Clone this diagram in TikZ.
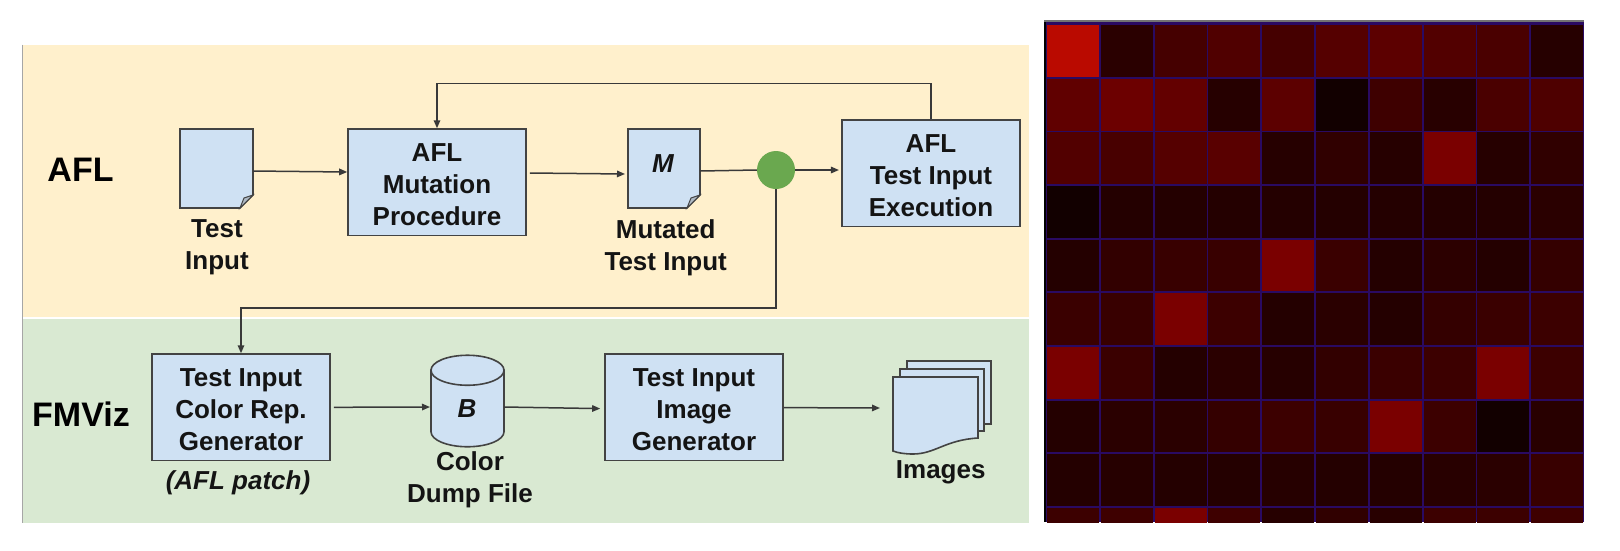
\documentclass[tikz,border=0pt]{standalone}
\usepackage{fontspec}
\setmainfont{Liberation Sans}
\usetikzlibrary{arrows.meta,calc}
\definecolor{aflbg}{HTML}{FFF0CC}
\definecolor{fmbg}{HTML}{D9E9D2}
\definecolor{boxfill}{HTML}{CFE1F3}
\definecolor{edge}{HTML}{434343}
\definecolor{juncfill}{HTML}{6AA84F}
\definecolor{gridblue}{HTML}{2A0A62}
\newcommand{\firstline}{\rule{0pt}{23pt}}
\tikzset{
  x=1pt,y=-1pt,
  lbl/.style={font=\bfseries\fontsize{26}{32}\selectfont,align=center,inner sep=0pt,text=black!92},
  title/.style={font=\bfseries\fontsize{34}{40}\selectfont,inner sep=0pt,text=black},
  procbox/.style={lbl,draw=edge,line width=1.6pt,fill=boxfill,minimum width=178pt,minimum height=106.5pt},
  anchorbox/.style={draw=none,inner sep=0pt,outer sep=0pt},
  shp/.style={draw=edge,line width=1.6pt,fill=boxfill,line join=miter},
  conn/.style={draw=edge!85!black,line width=1.5pt,-{Triangle[length=8pt,width=6.5pt]}},
  plain/.style={draw=edge!85!black,line width=1.5pt},
}
\newcommand{\docshape}[1]{%
  \draw[shp] (#1.north west) -- (#1.north east) -- ($(#1.south east)+(0,13pt)$)
    -- ($(#1.south east)+(-13pt,0)$) -- (#1.south west) -- cycle;
  \draw[edge,line width=1pt,fill=boxfill!60!gray] ($(#1.south east)+(0,13pt)$) -- ($(#1.south east)+(-9pt,10pt)$)
    -- ($(#1.south east)+(-13pt,0)$) -- cycle;
}
\begin{document}
\begin{tikzpicture}
\useasboundingbox (0,0) rectangle (1620,550);
\fill[white] (0,0) rectangle (1620,550);
% panels
\fill[aflbg] (22,44.7) rectangle (1029,316.7);
\fill[fmbg] (22,319) rectangle (1029,522.7);
\draw[black!35,line width=0.8pt] (22,44.7) -- (22,522.7);
% heat map
\fill[gridblue] (1044,20) rectangle (1584,522);
\begin{scope}
\clip (1044,20) rectangle (1584,522);
\foreach \rowvals [count=\j from 0] in {
 {BA0A00,2A0000,450000,500000,450000,550000,5C0000,520000,4A0000,260000},
 {600000,6C0000,630000,260000,5C0000,120000,3E0000,280000,4A0000,4E0000},
 {520000,480000,550000,590000,260000,300000,260000,7A0000,260000,300000},
 {120000,240000,240000,240000,240000,240000,240000,240000,240000,2A0000},
 {240000,320000,380000,380000,7A0000,3A0000,240000,2C0000,240000,340000},
 {3A0000,380000,7A0000,3C0000,240000,2A0000,240000,340000,3A0000,3C0000},
 {7A0000,3A0000,240000,2A0000,260000,320000,3A0000,3C0000,7A0000,3C0000},
 {240000,2A0000,2A0000,340000,3C0000,380000,7A0000,3C0000,120000,280000},
 {240000,260000,240000,240000,260000,240000,240000,280000,2A0000,380000},
 {3C0000,3E0000,7A0000,3E0000,260000,300000,280000,3C0000,3C0000,3E0000}}
 {
  \foreach \cellval [count=\i from 0] in \rowvals {
    \definecolor{cellc}{HTML}{\cellval}
    \fill[cellc] ({1047+53.8*\i},{25+53.65*\j}) rectangle ({1045.2+53.8*(\i+1)},{23.2+53.65*(\j+1)});
  }
 }
\end{scope}
\fill[black] (1044,20) rectangle (1046,522);
\fill[black!55] (1044,20) rectangle (1584,22);
% titles
\node[title] (afltitle) at (80.5,170) {AFL};
\node[title] (fmtitle) at (81,414) {FMViz};
% AFL row
\node[anchorbox,minimum width=73pt,minimum height=79pt] (testdoc) at (216.5,168.5) {};
\docshape{testdoc}
\node[lbl] (testlbl) at (217,247.5) {Test\\Input};
\node[procbox] (mut) at (437,182.3) {\firstline AFL\\Mutation\\Procedure};
\node[anchorbox,minimum width=72pt,minimum height=79pt] (mdoc) at (664,168.5) {};
\docshape{mdoc}
\node[lbl,font=\bfseries\itshape\fontsize{26}{32}\selectfont] (mlbl) at (663,163.5) {M};
\node[lbl] (mutlbl) at (665.7,247.5) {Mutated\\Test Input};
\node[circle,fill=juncfill,minimum size=38pt,inner sep=0pt] (junc) at (776,170) {};
\node[procbox,minimum width=178.5pt] (exec) at (931,173.3) {\firstline AFL\\Test Input\\Execution};
% FMViz row
\node[procbox] (colorbox) at (241,407.3) {\firstline Test Input\\Color Rep.\\Generator};
\node[lbl,font=\bfseries\itshape\fontsize{26}{32}\selectfont] (patch) at (238,483) {(AFL patch)};
\node[anchorbox,minimum width=73pt,minimum height=91.5pt] (cyl) at (467.5,401) {};
\draw[shp] ($(cyl.south west)+(0,15pt)$) arc[start angle=180,end angle=360,x radius=36.5pt,y radius=15pt]
  -- ($(cyl.north east)+(0,-15pt)$) -- ($(cyl.north west)+(0,-15pt)$) -- cycle;
\draw[shp] ($(cyl.north)+(0,-15pt)$) circle[x radius=36.5pt,y radius=15pt];
\node[lbl,font=\bfseries\itshape\fontsize{26}{32}\selectfont] (blbl) at (467,409) {B};
\node[lbl] (cyllbl) at (470,479.5) {Color\\Dump File};
\node[procbox] (gen) at (694,407.3) {\firstline Test Input\\Image\\Generator};
% image stack
\node[anchorbox,minimum width=98pt,minimum height=91pt] (imgs) at (942,406.5) {};
\draw[shp] (907,361) rectangle (991,424);
\draw[shp] (900,369) rectangle (984,431);
\draw[shp] (893,377) -- (978,377) -- (978,438) .. controls (945,440) and (935,454) .. (913,454)
  .. controls (905,454) and (898,453) .. (893,451) -- cycle;
\node[lbl] (imglbl) at (940.7,472) {Images};
% connectors
\draw[conn] ([yshift=-2.5pt]testdoc.east) -- ([yshift=10.3pt]mut.west);
\draw[conn] ([xshift=3pt,yshift=9.3pt]mut.east) -- ([xshift=-3pt,yshift=-5.5pt]mdoc.west);
\draw[plain] ([yshift=-2.5pt]mdoc.east) -- (junc.west);
\draw[conn] (junc.east) -- ([xshift=-2pt,yshift=3.3pt]exec.west);
\draw[conn] (exec.north) -- ++(0,-36) -| (mut.north);
\coordinate (bend) at (776,308);
\draw[conn] (junc.south) -- (bend) -| (colorbox.north);
\draw[conn] ([xshift=3pt,yshift=0pt]colorbox.east) -- ([xshift=-1pt,yshift=-6pt]cyl.west);
\draw[conn] ([yshift=-6pt]cyl.east) -- ([xshift=-4pt,yshift=-1.3pt]gen.west);
\draw[conn] ([yshift=-0.3pt]gen.east) -- ([xshift=-13pt,yshift=-1.5pt]imgs.west);
\end{tikzpicture}
\end{document}
